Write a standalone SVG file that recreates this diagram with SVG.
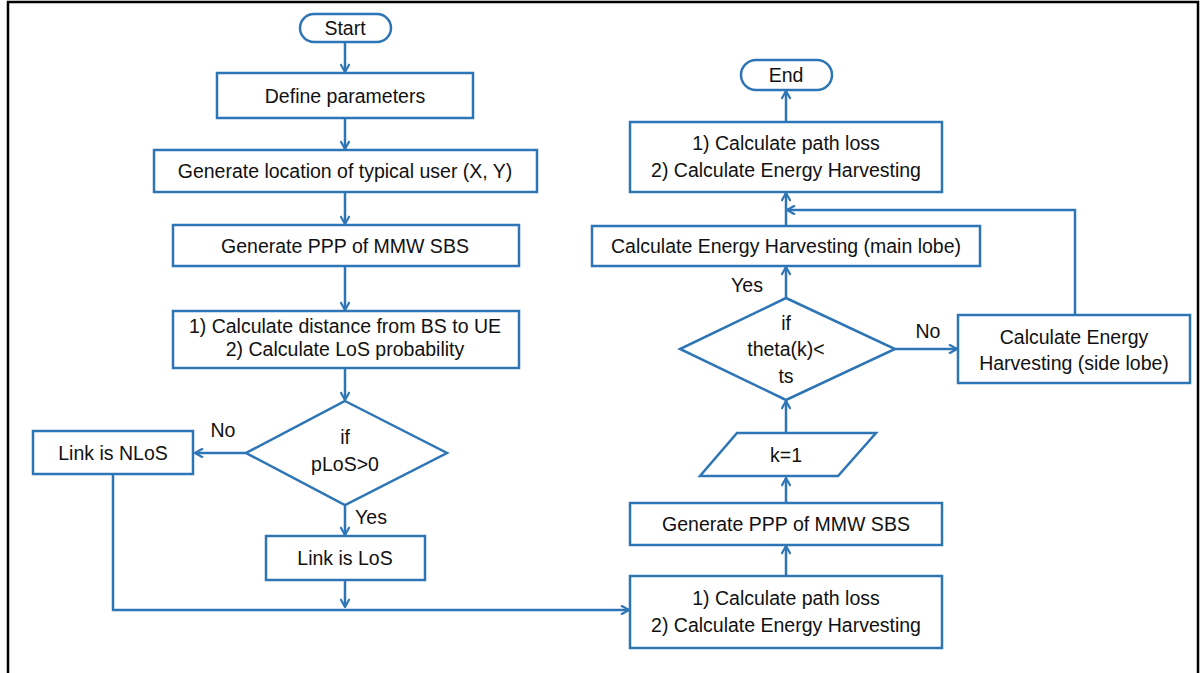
<svg xmlns="http://www.w3.org/2000/svg" width="1204" height="673" viewBox="0 0 1204 673">
<style>
.n{fill:#fff;stroke:#2E75B6;stroke-width:2.5}
.c{fill:none;stroke:#2E75B6;stroke-width:2.5}
text{font-family:"Liberation Sans",Arial,sans-serif;font-size:19.5px;fill:#111;text-anchor:middle;dominant-baseline:central}
</style>
<defs>
<marker id="a" viewBox="0 0 10 10" refX="9" refY="5" markerWidth="10" markerHeight="10" markerUnits="userSpaceOnUse" orient="auto">
<path d="M1,0.5 L9,5 L1,9.5" fill="none" stroke="#2E75B6" stroke-width="2.2"/>
</marker>
</defs>
<rect x="0" y="0" width="1204" height="673" fill="#fff"/>
<path d="M8,673 V2 H1198 V673" fill="none" stroke="#000" stroke-width="2.5"/>
<g id="connectors">
<path class="c" d="M345,42 V72" marker-end="url(#a)"/>
<path class="c" d="M345,118 V149" marker-end="url(#a)"/>
<path class="c" d="M345,192 V224" marker-end="url(#a)"/>
<path class="c" d="M345,266 V310" marker-end="url(#a)"/>
<path class="c" d="M345,368 V400" marker-end="url(#a)"/>
<path class="c" d="M246,453 H195" marker-end="url(#a)"/>
<path class="c" d="M345,505 V535" marker-end="url(#a)"/>
<path class="c" d="M345,580 V607" marker-end="url(#a)"/>
<path class="c" d="M113,474 V610 H629" marker-end="url(#a)"/>
<path class="c" d="M786,576 V546" marker-end="url(#a)"/>
<path class="c" d="M786,503 V478" marker-end="url(#a)"/>
<path class="c" d="M786,432 V401" marker-end="url(#a)"/>
<path class="c" d="M786,298 V267" marker-end="url(#a)"/>
<path class="c" d="M895,349 H957" marker-end="url(#a)"/>
<path class="c" d="M1075,315 V210 H787" marker-end="url(#a)"/>
<path class="c" d="M786,226 V193" marker-end="url(#a)"/>
<path class="c" d="M786,122 V91" marker-end="url(#a)"/>
<text x="223" y="430">No</text>
<text x="371" y="517">Yes</text>
<text x="747" y="285">Yes</text>
<text x="928" y="331">No</text>
</g>
<g id="start"><rect class="n" x="300" y="14" width="91" height="28" rx="14"/><text x="345" y="28">Start</text></g>
<g id="define"><rect class="n" x="217" y="73" width="256" height="45"/><text x="345" y="96">Define parameters</text></g>
<g id="genloc"><rect class="n" x="154" y="150" width="383" height="42"/><text x="345" y="171">Generate location of typical user (X, Y)</text></g>
<g id="genppp1"><rect class="n" x="173" y="225" width="346" height="41"/><text x="345" y="246">Generate PPP  of MMW SBS</text></g>
<g id="calcdist"><rect class="n" x="173" y="311" width="346" height="57"/><text x="345" y="326">1) Calculate distance from BS to UE</text><text x="345" y="349">2) Calculate LoS probability</text></g>
<g id="dec1"><polygon class="n" points="345,401 447,453 345,505 246,453"/><text x="345" y="437">if</text><text x="345" y="464">pLoS&gt;0</text></g>
<g id="nlos"><rect class="n" x="33" y="431" width="160" height="43"/><text x="113" y="453">Link is NLoS</text></g>
<g id="los"><rect class="n" x="266" y="536" width="159" height="44"/><text x="345" y="558">Link is LoS</text></g>
<g id="calcpl1"><rect class="n" x="630" y="576" width="312" height="72"/><text x="786" y="598">1) Calculate path loss</text><text x="786" y="625">2) Calculate Energy Harvesting</text></g>
<g id="genppp2"><rect class="n" x="630" y="503" width="312" height="42"/><text x="786" y="524">Generate PPP  of MMW SBS</text></g>
<g id="k1"><polygon class="n" points="737,433 876,433 838,476 700,476"/><text x="786" y="455">k=1</text></g>
<g id="dec2"><polygon class="n" points="786,298 895,349 786,400 680,349"/><text x="786" y="323">if</text><text x="786" y="349">theta(k)&lt;</text><text x="786" y="376">ts</text></g>
<g id="side"><rect class="n" x="958" y="315" width="232" height="68"/><text x="1074" y="337">Calculate Energy</text><text x="1074" y="363">Harvesting (side lobe)</text></g>
<g id="main"><rect class="n" x="592" y="226" width="388" height="40"/><text x="786" y="246">Calculate Energy Harvesting (main lobe)</text></g>
<g id="calcpl2"><rect class="n" x="630" y="122" width="312" height="70"/><text x="786" y="143">1) Calculate path loss</text><text x="786" y="170">2) Calculate Energy Harvesting</text></g>
<g id="end"><rect class="n" x="741" y="60" width="91" height="30" rx="15"/><text x="786" y="75">End</text></g>
</svg>
